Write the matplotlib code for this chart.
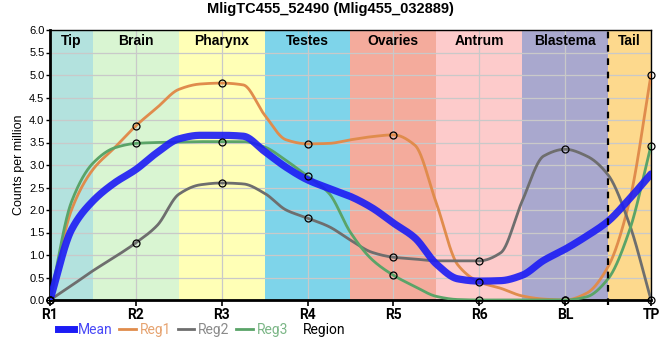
import numpy as np
import matplotlib
matplotlib.use('Agg')
import matplotlib.pyplot as plt
from matplotlib.lines import Line2D

plt.rcParams['font.family'] = ['Liberation Sans', 'DejaVu Sans']

# sample tick labels and body regions
tick_labels = ['R1', 'R2', 'R3', 'R4', 'R5', 'R6', 'BL', 'TP']
regions = ['Tip', 'Brain', 'Pharynx', 'Testes', 'Ovaries', 'Antrum', 'Blastema', 'Tail']
region_colors = ['#b3e2de', '#d9f5d2', '#ffffb6', '#7ed4ea', '#f4ab9c',
                 '#fdcbcb', '#a9a8ce', '#fdd98d']

# values at the sample positions (markers)
reg1_pts = [0.0, 3.87, 4.82, 3.47, 3.67, 0.40, 0.0, 5.0]
reg2_pts = [0.0, 1.27, 2.60, 1.82, 0.95, 0.87, 3.35, 0.0]
reg3_pts = [0.0, 3.48, 3.52, 2.75, 0.55, 0.0, 0.0, 3.43]

# curve values read every quarter step between R1 and TP
reg1_curve = [0.0, 2.0, 2.9, 3.38, 3.87, 4.28, 4.68, 4.80, 4.82, 4.78, 4.11, 3.56,
              3.47, 3.48, 3.56, 3.63, 3.67, 3.44, 2.15, 0.78, 0.40, 0.26, 0.09,
              0.02, 0.0, 0.15, 0.74, 2.2, 5.0]
reg2_curve = [0.0, 0.32, 0.65, 0.95, 1.27, 1.66, 2.35, 2.56, 2.60, 2.58, 2.37, 2.0,
              1.82, 1.63, 1.33, 1.06, 0.95, 0.91, 0.87, 0.87, 0.87, 1.05, 2.2,
              3.2, 3.35, 3.2, 2.78, 1.68, 0.0]
reg3_curve = [0.0, 2.18, 3.04, 3.38, 3.48, 3.50, 3.51, 3.52, 3.52, 3.52, 3.4, 3.1,
              2.75, 2.37, 1.5, 0.9, 0.55, 0.3, 0.08, 0.01, 0.0, 0.0, 0.0,
              0.0, 0.0, 0.07, 0.47, 1.55, 3.43]
mean_curve = [0.0, 1.56, 2.2, 2.6, 2.9, 3.28, 3.58, 3.66, 3.66, 3.64, 3.3, 2.95,
              2.67, 2.48, 2.30, 2.05, 1.71, 1.38, 0.8, 0.47, 0.42, 0.43, 0.55,
              0.88, 1.13, 1.42, 1.75, 2.25, 2.8]

colors = {'Mean': '#1c1cf5', 'Reg1': '#e08c4c', 'Reg2': '#6e6e6e', 'Reg3': '#5aa468'}


def pchip(x, y, xs):
    x = np.asarray(x, float)
    y = np.asarray(y, float)
    h = np.diff(x)
    d = np.diff(y) / h
    m = np.zeros_like(y)
    for k in range(1, len(y) - 1):
        if d[k - 1] * d[k] > 0:
            w1 = 2 * h[k] + h[k - 1]
            w2 = h[k] + 2 * h[k - 1]
            m[k] = (w1 + w2) / (w1 / d[k - 1] + w2 / d[k])
    m[0] = d[0]
    m[-1] = d[-1]
    idx = np.clip(np.searchsorted(x, xs) - 1, 0, len(h) - 1)
    t = (xs - x[idx]) / h[idx]
    h00 = 2 * t**3 - 3 * t**2 + 1
    h10 = t**3 - 2 * t**2 + t
    h01 = -2 * t**3 + 3 * t**2
    h11 = t**3 - t**2
    return (h00 * y[idx] + h10 * h[idx] * m[idx]
            + h01 * y[idx + 1] + h11 * h[idx] * m[idx + 1])


def plot_regions():
    n = len(tick_labels)
    pos = np.arange(n)
    cpos = np.linspace(0, n - 1, len(mean_curve))
    xs = np.linspace(0, n - 1, 1200)
    roboto = ['Roboto', 'DejaVu Sans']

    fig = plt.figure(figsize=(6.6, 3.6), dpi=100)
    ax = fig.add_axes([50 / 660, 60 / 360, 601 / 660, 270 / 360])

    for i, (name, col) in enumerate(zip(regions, region_colors)):
        lo = max(i - 0.5, 0)
        hi = min(i + 0.5, n - 1)
        ax.axvspan(lo, hi, color=col, lw=0, zorder=0)
        ax.text((lo + hi) / 2, 5.76, name, ha='center', va='center',
                fontsize=10, fontweight='bold', zorder=5)

    ax.grid(True, color='#c9c9c9', lw=0.9)

    for name, curve in [('Reg1', reg1_curve), ('Reg2', reg2_curve),
                        ('Reg3', reg3_curve)]:
        ax.plot(xs, pchip(cpos, curve, xs), color=colors[name], lw=2.0,
                solid_capstyle='round', zorder=3)
    ax.plot(xs, pchip(cpos, mean_curve, xs), color=colors['Mean'], lw=5.2,
            alpha=0.9, solid_capstyle='round', zorder=4)
    for pts in [reg1_pts, reg2_pts, reg3_pts]:
        ax.plot(pos, pts, 'o', ms=5, mfc='none', mec='black', mew=0.9,
                zorder=6, clip_on=False)

    ax.axvline(n - 1.5, ymin=-0.02, ymax=1, color='black', ls=(0, (3, 3)),
               lw=1.6, zorder=5, clip_on=False)

    ax.set_xlim(0, n - 1)
    ax.set_ylim(0, 6)
    ax.set_xticks(pos)
    ax.set_xticklabels(tick_labels, fontsize=10, fontweight='bold', family=roboto)
    ax.set_yticks(np.arange(0, 6.01, 0.5))
    ax.set_yticklabels(['%.1f' % v for v in np.arange(0, 6.01, 0.5)],
                       fontsize=8)
    ax.tick_params(axis='x', length=4, width=1.2, pad=2)
    ax.tick_params(axis='y', length=3, width=1, pad=1)
    for side in ['left', 'bottom']:
        ax.spines[side].set_linewidth(2)
    for side in ['top', 'right']:
        ax.spines[side].set_linewidth(1)
    ax.set_ylabel('Counts per million', fontsize=9, labelpad=3)

    fig.text(330 / 660, 1 - 9 / 360, 'MligTC455_52490 (Mlig455_032889)',
             ha='center', va='center', fontsize=10.5, fontweight='bold')

    handles = [Line2D([], [], color=colors['Mean'], lw=5),
               Line2D([], [], color=colors['Reg1'], lw=2),
               Line2D([], [], color=colors['Reg2'], lw=2),
               Line2D([], [], color=colors['Reg3'], lw=2)]
    leg = fig.legend(handles, ['Mean', 'Reg1', 'Reg2', 'Reg3'], ncol=4,
                     loc='center left', bbox_to_anchor=(45 / 660, 1 - 330 / 360),
                     frameon=False, handlelength=1.2,
                     handletextpad=0.25, columnspacing=0.5,
                     prop={'family': roboto, 'size': 10})
    for txt, name in zip(leg.get_texts(), ['Mean', 'Reg1', 'Reg2', 'Reg3']):
        txt.set_color(colors[name])
        txt.set_alpha(0.8)
    fig.text(324 / 660, 1 - 330 / 360, 'Region', ha='center', va='center',
             fontsize=10, family=roboto)

    fig.savefig('out.png', dpi=100)


def run():
    plot_regions()


if __name__ == '__main__':
    run()
